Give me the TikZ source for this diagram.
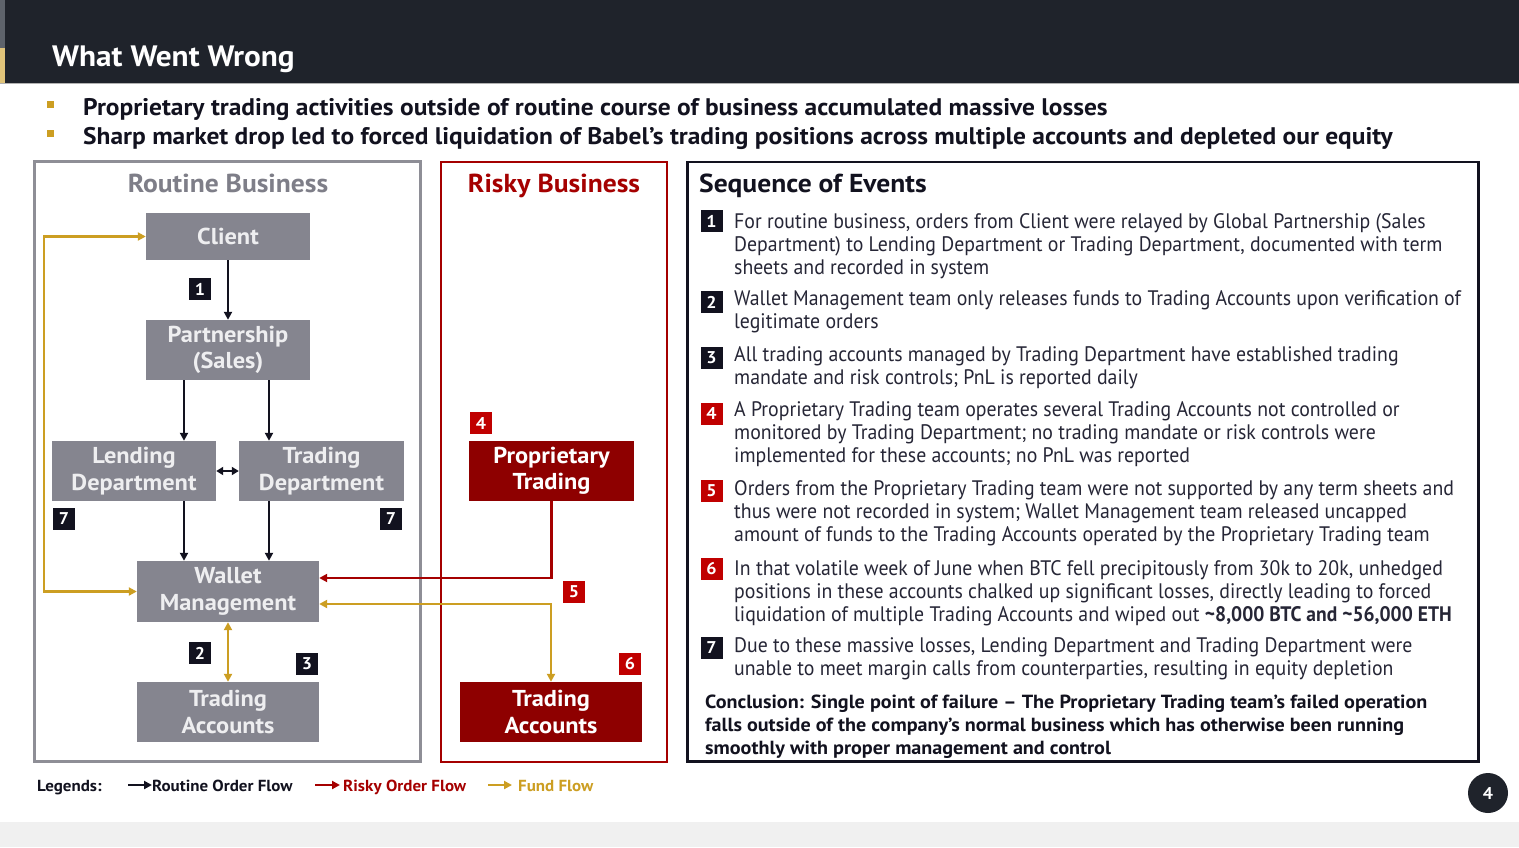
\documentclass[tikz,border=0pt]{standalone}
\usepackage{fontspec}
\setmainfont{PT Sans}[FakeStretch=0.943, BoldFeatures={FakeStretch=1.06}]
\newfontfamily\narrowbold{PT Sans}[FakeStretch=0.93]
\usetikzlibrary{arrows.meta}
\definecolor{bar}{HTML}{1F232B}
\definecolor{navy}{HTML}{12121F}
\definecolor{ngrey}{HTML}{85858F}
\definecolor{bgrey}{HTML}{8E8E96}
\definecolor{tgrey}{HTML}{7E7E88}
\definecolor{rbord}{HTML}{A50000}
\definecolor{rfill}{HTML}{8E0000}
\definecolor{rbadge}{HTML}{C00000}
\definecolor{gold}{HTML}{CC9E22}
\definecolor{ntext}{HTML}{EEEEF0}
\definecolor{seqtext}{HTML}{262636}
\definecolor{foot}{HTML}{F0F0F0}
\definecolor{stripg}{HTML}{5E636B}
\definecolor{stripy}{HTML}{E0C47A}
\newcommand\fsz[2]{\fontsize{#1}{#2}\selectfont}
\begin{document}
\begin{tikzpicture}[x=1pt,y=-1pt,
  gnode/.style={fill=ngrey, text=ntext, font=\bfseries\fsz{23}{26.5}, align=center, inner sep=0pt},
  rnode/.style={gnode, fill=rfill, text=white},
  kbadge/.style={fill=navy, text=white, font=\bfseries\fsz{17}{17}, minimum width=22pt, minimum height=22pt, inner sep=0pt},
  rbadgest/.style={kbadge, fill=rbadge},
  tip/.style={-{Triangle[length=8pt,width=8pt]}},
  dtip/.style={{Triangle[length=8pt,width=8pt]}-{Triangle[length=8pt,width=8pt]}},
  ord/.style={draw=navy, line width=2.2pt},
  risky/.style={draw=rbord, line width=2.2pt},
  fund/.style={draw=gold, line width=2.2pt},
  seq/.style={anchor=base west, inner sep=0pt, font=\fsz{21}{23}, text=seqtext},
  concl/.style={anchor=base west, inner sep=0pt, font=\bfseries\fsz{19}{23}, text=navy},
  bul/.style={anchor=base west, inner sep=0pt, font=\bfseries\fsz{24}{28}, text=navy},
  lgd/.style={anchor=base west, inner sep=0pt, font=\bfseries\fsz{16}{18}},
  ptitle/.style={inner sep=0pt, font=\bfseries\fsz{26}{28}}
]
\useasboundingbox (0,0) rectangle (1519,847);
\fill[white] (0,0) rectangle (1519,847);
\fill[foot] (0,822) rectangle (1519,847);
% header
\fill[bar] (0,0) rectangle (1519,83);
\fill[stripg] (0,0) rectangle (5,48);
\fill[stripy] (0,48) rectangle (5,83);
\draw[gray!60, line width=0.8pt] (0,83.5) -- (1519,83.5);
\node[anchor=base west, inner sep=0pt, text=white, font=\bfseries\fsz{29.5}{34}] (title) at (52,66) {What Went Wrong};
% bullets
\fill[gold] (46.5,100.5) rectangle (53.5,107.5);
\fill[gold] (46.5,129.5) rectangle (53.5,136.5);
\node[bul] (bul1) at (83,115) {Proprietary trading activities outside of routine course of business accumulated massive losses};
\node[bul] (bul2) at (83,144) {Sharp market drop led to forced liquidation of Babel’s trading positions across multiple accounts and depleted our equity};
% panels
\draw[bgrey, line width=2.5pt] (34.5,161.5) rectangle (420.5,761.5);
\draw[rbord, line width=2pt] (441,161.5) rectangle (667,761.5);
\draw[navy, line width=2.2pt] (687.5,162) rectangle (1478.5,761.5);
\node[ptitle, anchor=base, text=tgrey] (rtitle) at (228,192) {Routine Business};
\node[ptitle, anchor=base, text=rbord] (ktitle) at (554,192) {Risky Business};
\node[ptitle, anchor=base west, text=navy] (stitle) at (699,192) {Sequence of Events};
% routine nodes
\node[gnode, minimum width=164pt, minimum height=47pt] (client) at (228,236.5) {Client};
\node[gnode, minimum width=164pt, minimum height=60pt] (part) at (228,350) {Partnership\\(Sales)};
\node[gnode, minimum width=164pt, minimum height=60pt] (lend) at (134,471) {Lending\\Department};
\node[gnode, minimum width=165pt, minimum height=60pt] (tdept) at (321.5,471) {Trading\\Department};
\node[gnode, minimum width=182pt, minimum height=61pt] (wallet) at (228,591.5) {Wallet\\Management};
\node[gnode, minimum width=182pt, minimum height=60pt] (tacc) at (228,712) {Trading\\Accounts};
% risky nodes
\node[rnode, minimum width=165pt, minimum height=60pt] (prop) at (551.5,471) {Proprietary\\Trading};
\node[rnode, minimum width=182pt, minimum height=60pt] (racc) at (551,712) {Trading\\Accounts};
% connectors
\draw[ord, tip] (client) -- (part);
\draw[ord, tip] ([xshift=-44pt]part.south) -- ([xshift=-44pt]part.south |- lend.north);
\draw[ord, tip] ([xshift=41pt]part.south) -- ([xshift=41pt]part.south |- tdept.north);
\draw[ord, {Triangle[length=7pt,width=8pt]}-{Triangle[length=7pt,width=8pt]}, line width=1.8pt] (lend.east) -- (tdept.west);
\draw[ord, tip] ([xshift=50pt]lend.south) -- ([xshift=50pt]lend.south |- wallet.north);
\draw[ord, tip] ([xshift=-52.5pt]tdept.south) -- ([xshift=-52.5pt]tdept.south |- wallet.north);
\draw[fund, dtip] (wallet.west) -- ++(-93,0) |- (client.west);
\draw[fund, dtip] (wallet.south) -- (tacc.north);
\draw[risky, tip] (prop.south) |- ([yshift=13.5pt]wallet.east);
\draw[fund, dtip] ([yshift=-12.5pt]wallet.east) -| (racc.north);
% diagram badges
\node[kbadge] (d1) at (200,289) {1};
\node[kbadge] (d7a) at (64,519) {7};
\node[kbadge] (d7b) at (391,519) {7};
\node[kbadge] (d2) at (200,653) {2};
\node[kbadge] (d3) at (307,664) {3};
\node[rbadgest] (d4) at (481,423) {4};
\node[rbadgest] (d5) at (574,592) {5};
\node[rbadgest] (d6) at (630,664) {6};
% sequence badges
\node[kbadge] (e1) at (711.5,221) {1};
\node[kbadge] (e2) at (711.5,302) {2};
\node[kbadge] (e3) at (711.5,357.5) {3};
\node[rbadgest] (e4) at (711.5,413.5) {4};
\node[rbadgest] (e5) at (711.5,490.5) {5};
\node[rbadgest] (e6) at (711.5,569) {6};
\node[kbadge] (e7) at (711.5,648) {7};
% sequence text
\node[seq] (s1a) at (734,228.5) {For routine business, orders from Client were relayed by Global Partnership (Sales};
\node[seq] (s1b) at (734,251.5) {Department) to Lending Department or Trading Department, documented with term};
\node[seq] (s1c) at (734,274.5) {sheets and recorded in system};
\node[seq] (s2a) at (734,305.5) {Wallet Management team only releases funds to Trading Accounts upon verification of};
\node[seq] (s2b) at (734,328.5) {legitimate orders};
\node[seq] (s3a) at (734,361.5) {All trading accounts managed by Trading Department have established trading};
\node[seq] (s3b) at (734,384.5) {mandate and risk controls; PnL is reported daily};
\node[seq] (s4a) at (734,416.5) {A Proprietary Trading team operates several Trading Accounts not controlled or};
\node[seq] (s4b) at (734,439.5) {monitored by Trading Department; no trading mandate or risk controls were};
\node[seq] (s4c) at (734,462.5) {implemented for these accounts; no PnL was reported};
\node[seq] (s5a) at (734,495.5) {Orders from the Proprietary Trading team were not supported by any term sheets and};
\node[seq] (s5b) at (734,518.5) {thus were not recorded in system; Wallet Management team released uncapped};
\node[seq] (s5c) at (734,541.5) {amount of funds to the Trading Accounts operated by the Proprietary Trading team};
\node[seq] (s6a) at (734,575.5) {In that volatile week of June when BTC fell precipitously from 30k to 20k, unhedged};
\node[seq] (s6b) at (734,598.5) {positions in these accounts chalked up significant losses, directly leading to forced};
\node[seq] (s6c) at (734,621.5) {liquidation of multiple Trading Accounts and wiped out {\narrowbold\bfseries \textasciitilde8,000 BTC and \textasciitilde56,000 ETH}};
\node[seq] (s7a) at (734,652.5) {Due to these massive losses, Lending Department and Trading Department were};
\node[seq] (s7b) at (734,675.5) {unable to meet margin calls from counterparties, resulting in equity depletion};
\node[concl] (c1) at (705,708.5) {Conclusion: Single point of failure – The Proprietary Trading team’s failed operation};
\node[concl] (c2) at (705,731.5) {falls outside of the company’s normal business which has otherwise been running};
\node[concl] (c3) at (705,754.5) {smoothly with proper management and control};
% legend
\node[lgd, text=navy] (lg) at (37,791) {Legends:};
\coordinate (la1) at (128,785);
\coordinate (la2) at (152,785);
\draw[ord, tip, line width=2.6pt] (la1) -- (la2);
\node[lgd, text=navy] (lt1) at (152,791) {Routine Order Flow};
\coordinate (lb1) at (315,785);
\coordinate (lb2) at (340,785);
\draw[risky, tip, line width=2.6pt] (lb1) -- (lb2);
\node[lgd, text=rbord] (lt2) at (343,791) {Risky Order Flow};
\coordinate (lc1) at (488,785);
\coordinate (lc2) at (512,785);
\draw[fund, tip, line width=2.6pt] (lc1) -- (lc2);
\node[lgd, text=gold] (lt3) at (518,791) {Fund Flow};
% page number
\node[circle, fill=bar, minimum size=40pt, inner sep=0pt, text=white, font=\bfseries\fsz{17}{17}] (pg) at (1488,793) {4};
\end{tikzpicture}
\end{document}
